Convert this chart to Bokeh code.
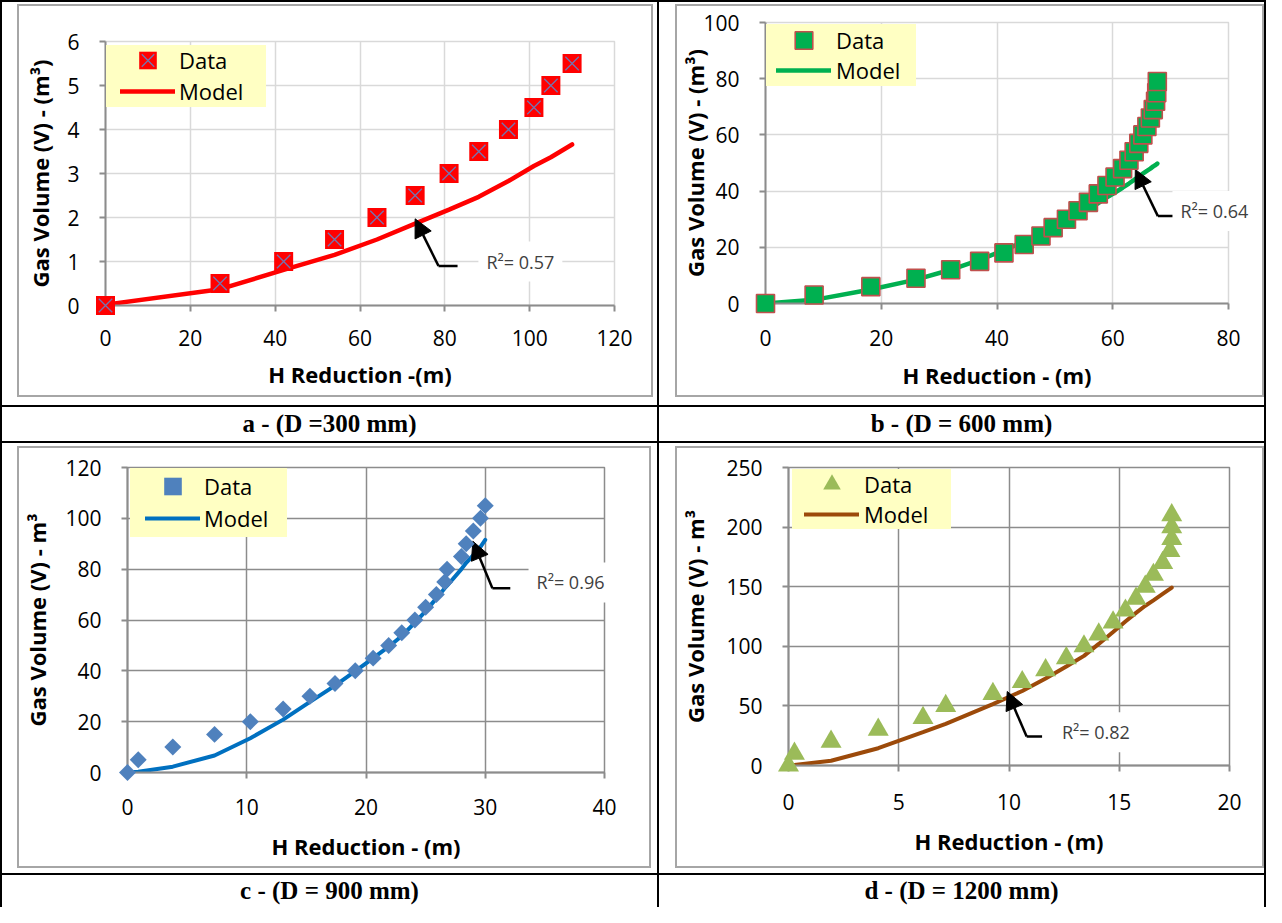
import math
from bokeh.plotting import figure
from bokeh.models import (Range1d, FixedTicker, Legend, LegendItem, Arrow,
                          NormalHead, Div, Spacer)
from bokeh.core.properties import value
from bokeh.layouts import row, column
from bokeh.embed import file_html
from bokeh.resources import INLINE

# ---------------- data ----------------
# a - D = 300 mm
a_x = [0, 27, 42, 54, 64, 73, 81, 88, 95, 101, 105, 110]
a_data = [0, 0.5, 1.0, 1.5, 2.0, 2.5, 3.0, 3.5, 4.0, 4.5, 5.0, 5.5]
a_model = [0.02, 0.37, 0.81, 1.15, 1.5, 1.86, 2.18, 2.47, 2.83, 3.17, 3.37, 3.66]

# b - D = 600 mm
b_x = [0, 8.4, 18.2, 26, 32, 37, 41.2, 44.7, 47.6, 49.7, 52.0, 54.0, 55.8, 57.5,
       59.0, 60.4, 61.7, 62.8, 63.7, 64.5, 65.2, 65.9, 66.5, 67.0, 67.4, 67.6, 67.7]
b_data = [0, 3, 6, 9, 12, 15, 18, 21, 24, 27, 30, 33, 36, 39, 42, 45, 48, 51, 54,
          57, 60, 63, 66, 69, 72, 75, 79]
b_model = [0, 1.3, 5, 8.5, 12, 15.5, 19, 22, 25, 27, 29.5, 31.8, 33.8, 35.7, 37.8,
           39.5, 41.2, 42.7, 44, 45.2, 46.2, 47.2, 48, 48.8, 49.3, 49.6, 49.8]

# c - D = 900 mm
c_x = [0, 0.9, 3.8, 7.3, 10.3, 13.05, 15.3, 17.4, 19.1, 20.6, 21.9, 23.0, 24.1,
       25.0, 25.9, 26.6, 26.8, 28.0, 28.4, 29.0, 29.6, 30.0]
c_data = [0, 5, 10, 15, 20, 25, 30, 35, 40, 45, 50, 55, 60, 65, 70, 75, 80, 85, 90,
          95, 100, 105]
c_model = [0, 0.3, 2.3, 6.7, 13.5, 20.8, 27.8, 34.2, 39.9, 45, 49.5, 53.7, 59, 63.5,
           68.5, 72.5, 73.5, 80, 82.5, 85.5, 88.8, 91.5]

# d - D = 1200 mm
d_x = [0, 0.27, 1.93, 4.07, 6.1, 7.13, 9.27, 10.6, 11.66, 12.6, 13.4, 14.07, 14.72,
       15.28, 15.76, 16.18, 16.55, 16.97, 17.3, 17.38, 17.38, 17.38]
d_data = [0, 10, 20, 30, 40, 50, 60, 70, 80, 90, 100, 110, 120, 130, 140, 150, 160,
          170, 180, 190, 200, 210]
d_model = [0, 0.5, 4, 14.5, 28, 35, 51.5, 62.5, 73, 83, 92, 102, 112, 120.8, 128,
           134, 138.6, 144, 148.2, 149.3, 149.3, 149.3]

# tick values
a_xticks = [0, 20, 40, 60, 80, 100, 120]
a_yticks = [0, 1, 2, 3, 4, 5, 6]
b_xticks = [0, 20, 40, 60, 80]
b_yticks = [0, 20, 40, 60, 80, 100]
c_xticks = [0, 10, 20, 30, 40]
c_yticks = [0, 20, 40, 60, 80, 100, 120]
d_xticks = [0, 5, 10, 15, 20]
d_yticks = [0, 50, 100, 150, 200, 250]

# R^2 annotations: (text, tip, elbow, horizontal end, text anchor)
a_note = ("R\u00b2= 0.57", (73.0, 1.97), (78.5, 0.9), (83.0, 0.9), (89.8, 1.0))
b_note = ("R\u00b2= 0.64", (63.9, 47.7), (67.8, 31.1), (70.6, 31.1), (71.7, 32.9))
c_note = ("R\u00b2= 0.96", (28.96, 91.0), (30.6, 72.5), (32.1, 72.5), (34.3, 74.8))
d_note = ("R\u00b2= 0.82", (9.92, 62.1), (10.8, 24.3), (11.5, 24.3), (12.4, 27.9))

captions = ["a - (D =300 mm)", "b - (D = 600 mm)", "c - (D = 900 mm)", "d - (D = 1200 mm)"]

FONT = "Open Sans"
LIGHT_GRID = "#d9d9d9"
DARK_GRID = "#8c8c8c"
AXIS_GRAY = "#8c8c8c"
LEGEND_BG = "#FFFFC3"


def make_fig(w, h, xr, yr, xticks, yticks, borders, grid_color, xlabel, ylabel,
             y_title_standoff, x_title_standoff, x_label_standoff):
    ml, mr, mt, mb = borders
    p = figure(width=w, height=h, x_range=Range1d(*xr), y_range=Range1d(*yr),
               output_backend="svg", toolbar_location=None,
               min_border_left=ml, min_border_right=mr,
               min_border_top=mt, min_border_bottom=mb)
    p.background_fill_color = "white"
    p.border_fill_color = "white"
    p.outline_line_color = grid_color
    p.outline_line_width = 1.5
    for ax, ticks, label in ((p.xaxis[0], xticks, xlabel), (p.yaxis[0], yticks, ylabel)):
        ax.ticker = FixedTicker(ticks=ticks)
        ax.axis_line_color = AXIS_GRAY
        ax.axis_line_width = 2
        ax.major_tick_line_color = AXIS_GRAY
        ax.major_tick_line_width = 2
        ax.major_tick_out = 6
        ax.major_tick_in = 0
        ax.minor_tick_line_color = None
        ax.major_label_text_font = FONT
        ax.major_label_text_font_size = "21px"
        ax.major_label_text_color = "black"
        ax.axis_label = label
        ax.axis_label_text_font = FONT
        ax.axis_label_text_font_size = "22px"
        ax.axis_label_text_font_style = "bold"
        ax.axis_label_text_color = "black"
    p.xaxis[0].major_label_standoff = x_label_standoff
    p.yaxis[0].major_label_standoff = 20
    p.yaxis[0].axis_label_standoff = y_title_standoff
    p.xaxis[0].axis_label_standoff = x_title_standoff
    p.grid.grid_line_color = grid_color
    p.grid.grid_line_width = 1.5
    return p


def style_legend(leg, gh, standoff):
    leg.background_fill_color = None
    leg.border_line_color = None
    leg.label_text_font = FONT
    leg.label_text_font_size = "22px"
    leg.label_text_color = "black"
    leg.glyph_width = 55
    leg.glyph_height = gh
    leg.label_height = gh
    leg.padding = 0
    leg.margin = 0
    leg.spacing = 0
    leg.label_standoff = standoff


def add_legend(p, data_rs, model_r, dummy_r, frame_h, box, line_left, row1, step,
               standoff=4):
    dx, dy, bw, bh = box
    # yellow legend box
    bg = Legend(items=[LegendItem(label=" ", renderers=[dummy_r])],
                location=(dx, frame_h - dy - bh))
    bg.padding = 0
    bg.margin = 0
    bg.glyph_width = 1
    bg.glyph_height = bh
    bg.label_height = bh
    bg.label_width = bw - 1
    bg.label_standoff = 0
    bg.background_fill_color = LEGEND_BG
    bg.background_fill_alpha = 1.0
    bg.border_line_color = None
    bg.label_text_font_size = "1px"
    p.add_layout(bg)
    # "Data" entry
    gd = 44
    leg_d = Legend(items=[LegendItem(label="Data", renderers=data_rs)],
                   location=(line_left, frame_h - (row1 - gd / 2) - gd))
    style_legend(leg_d, gd, standoff)
    p.add_layout(leg_d)
    # "Model" entry
    gm = 30
    leg_m = Legend(items=[LegendItem(label="Model", renderers=[model_r])],
                   location=(line_left, frame_h - (row1 + step - gm / 2) - gm))
    style_legend(leg_m, gm, standoff)
    p.add_layout(leg_m)


def add_note(p, note, pad):
    text, tip, elbow, hend, anchor = note
    p.add_layout(Arrow(end=None, x_start=hend[0], y_start=hend[1],
                       x_end=elbow[0], y_end=elbow[1],
                       line_color="black", line_width=2.5))
    p.add_layout(Arrow(end=NormalHead(size=18, fill_color="black", line_color="black",
                                      line_width=1),
                       x_start=elbow[0], y_start=elbow[1], x_end=tip[0], y_end=tip[1],
                       line_color="black", line_width=2.5))
    p.text(x=[anchor[0]], y=[anchor[1]], text=[text], text_font=value(FONT),
           text_font_size="18px", text_color="#404040", text_align="left",
           text_baseline="middle", background_fill_color="white", padding=pad,
           x_offset=-pad, level="overlay")


# ---------------- panel a ----------------
A_B = (86, 37, 35, 90)
A_H = 389
pa = make_fig(632, A_H, (0, 120), (0, 6), a_xticks, a_yticks, A_B,
              LIGHT_GRID, "H Reduction -(m)", "Gas Volume (V) - (m\u00b3)", 9, 10, 18)
ma = pa.line(a_x, a_model, line_color="#FF0000", line_width=4.5, line_cap="round")
dummy_a = pa.line(a_x[:1], a_data[:1], line_alpha=0)
sa1 = pa.scatter(a_x, a_data, marker="square", size=19, fill_color="#FF0000",
                 line_color=None, level="overlay")
sa2 = pa.scatter(a_x, a_data, marker="x", size=19, line_color="#7474b0",
                 line_width=1.3, level="overlay")
add_legend(pa, [sa1, sa2], ma, dummy_a, A_H - A_B[2] - A_B[3], (1, 4, 160, 62),
           15, 19, 31)
add_note(pa, a_note, 8)

# ---------------- panel b ----------------
B_B = (85, 34, 16, 92)
B_H = 389
pb = make_fig(585, B_H, (0, 80), (0, 100), b_xticks, b_yticks, B_B,
              LIGHT_GRID, "H Reduction - (m)", "Gas Volume (V) - (m\u00b3)", -10, 11, 20)
mb_ = pb.line(b_x, b_model, line_color="#00B050", line_width=4.5, line_cap="round")
dummy_b = pb.line(b_x[:1], b_data[:1], line_alpha=0)
sb = pb.scatter(b_x, b_data, marker="square", size=18, fill_color="#00B050",
                line_color="#C0504D", line_width=1.6, level="overlay")
add_legend(pb, [sb], mb_, dummy_b, B_H - B_B[2] - B_B[3], (1, 2, 150, 62),
           11, 18, 30, standoff=5)
add_note(pb, b_note, 8)

# ---------------- panel c ----------------
C_B = (106, 45, 19, 94)
C_H = 418
pc = make_fig(630, C_H, (0, 40), (0, 120), c_xticks, c_yticks, C_B,
              DARK_GRID, "H Reduction - (m)", "Gas Volume (V) - m\u00b3", 10, 13, 20)
mc = pc.line(c_x, c_model, line_color="#0070C0", line_width=4, line_cap="round")
dummy_c = pc.line(c_x[:1], c_data[:1], line_alpha=0)
sc = pc.scatter(c_x, c_data, marker="square", angle=math.pi / 4, size=12,
                fill_color="#4F81BD", line_color=None, level="overlay")
add_legend(pc, [sc], mc, dummy_c, C_H - C_B[2] - C_B[3], (3, 1, 157, 69),
           18, 19, 32)
add_note(pc, c_note, 8)

# ---------------- panel d ----------------
D_B = (109, 33, 19, 101)
D_H = 418
pd_ = make_fig(585, D_H, (0, 20), (0, 250), d_xticks, d_yticks, D_B,
               DARK_GRID, "H Reduction - (m)", "Gas Volume (V) - m\u00b3", 13, 13, 22)
md = pd_.line(d_x, d_model, line_color="#9C4A0A", line_width=4, line_cap="round")
dummy_d = pd_.line(d_x[:1], d_data[:1], line_alpha=0)
sd = pd_.scatter(d_x, d_data, marker="triangle", size=21, fill_color="#9BBB59",
                 line_color=None, level="overlay")
add_legend(pd_, [sd], md, dummy_d, D_H - D_B[2] - D_B[3], (4, 2, 159, 60),
           16, 17, 30, standoff=5)
add_note(pd_, d_note, 8)

# ---------------- table layout ----------------
BLACK = "#000000"
GRAY = "#a6a6a6"


def bar(w, h, color):
    return Div(text="", width=w, height=h, margin=0,
               styles={"background-color": color})


def space(w, h):
    return Spacer(width=w, height=h, margin=0)


def chart_cell(fig, cw, ch, il, it, ir, ib, gw=2):
    fw = cw - il - ir
    fh = ch - it - ib
    inner = column(bar(fw, gw, GRAY),
                   row(bar(gw, fh - 2 * gw, GRAY), fig, bar(gw, fh - 2 * gw, GRAY),
                       spacing=0, margin=0),
                   bar(fw, gw, GRAY), spacing=0, margin=0)
    mid_children = [space(il, fh), inner]
    if ir > 0:
        mid_children.append(space(ir, fh))
    return column(space(cw, it), row(*mid_children, spacing=0, margin=0),
                  space(cw, ib), spacing=0, margin=0)


def caption(text, w, h):
    html = ('<div style="width:%dpx;height:%dpx;display:flex;align-items:center;'
            'justify-content:center;font-family:\'Liberation Serif\';font-weight:bold;'
            'font-size:25px;color:black;">%s</div>' % (w, h, text))
    return Div(text=html, width=w, height=h, margin=0)


LW, RW = 655, 605
W = 2 + LW + 2 + RW + 2
R1, C1, R2, C2 = 403, 34, 430, 32

cell_a = chart_cell(pa, LW, R1, 15, 2, 4, 8)
cell_b = chart_cell(pb, RW, R1, 16, 2, 0, 8)
cell_c = chart_cell(pc, LW, R2, 15, 3, 6, 5)
cell_d = chart_cell(pd_, RW, R2, 16, 3, 0, 5)


def table_row(h, left, right):
    return row(bar(2, h, BLACK), left, bar(2, h, BLACK), right, bar(2, h, BLACK),
               spacing=0, margin=0)


layout = column(
    bar(W, 2, BLACK),
    table_row(R1, cell_a, cell_b),
    bar(W, 2, BLACK),
    table_row(C1, caption(captions[0], LW, C1), caption(captions[1], RW, C1)),
    bar(W, 2, BLACK),
    table_row(R2, cell_c, cell_d),
    bar(W, 2, BLACK),
    table_row(C2, caption(captions[2], LW, C2), caption(captions[3], RW, C2)),
    spacing=0, margin=0,
)

open("out.html", "w").write(file_html(layout, INLINE))
